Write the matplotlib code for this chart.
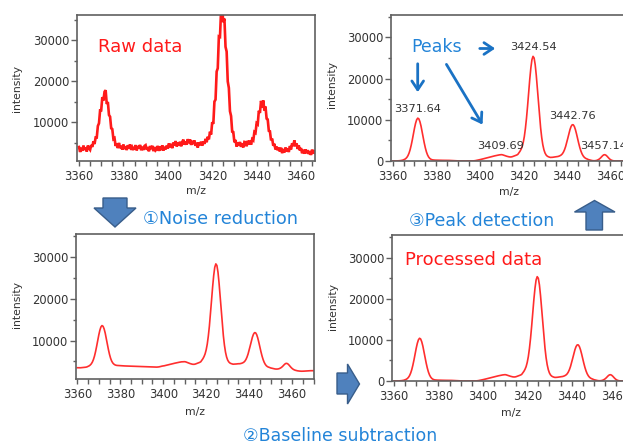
import numpy as np
import matplotlib
matplotlib.use("Agg")
import matplotlib.pyplot as plt
from matplotlib.patches import Polygon, FancyArrowPatch
from matplotlib.ticker import MultipleLocator

plt.rcParams['font.family'] = ['DejaVu Sans', 'Noto Sans CJK JP']

W, H = 623, 443

# m/z grid, 0.5 step from 3360 to 3470
mz = np.arange(3360, 3470.5, 0.5)

# raw spectrum (noisy)
raw_int = [
    3960, 2750, 3740, 3050, 4300, 3240, 3800, 2850, 4320, 3630,
    3260, 4430, 3980, 5340, 4690, 6290, 6270, 9080, 9730, 12880,
    12890, 16100, 15260, 17410, 17790, 14440, 14920, 11750, 11340, 8510,
    8310, 5900, 6110, 4210, 4830, 3690, 4960, 3690, 4260, 3330,
    4560, 3440, 4120, 3210, 4390, 3590, 4570, 3260, 3950, 3440,
    3540, 4420, 3120, 4200, 3590, 4470, 3160, 4040, 3230, 4220,
    4410, 3300, 3900, 2900, 4190, 3480, 4270, 2960, 3950, 3140,
    3430, 4220, 3010, 4100, 3190, 4380, 3090, 4020, 3360, 4310,
    3580, 4840, 3910, 4690, 3670, 5050, 4330, 5410, 4090, 5060,
    4280, 5250, 4120, 5190, 5760, 4520, 5280, 4530, 5870, 4900,
    5810, 4460, 5470, 4660, 5550, 4260, 4980, 3810, 5080, 4390,
    5260, 4280, 5300, 4720, 5940, 5120, 6470, 5810, 7700, 6990,
    10000, 9600, 15020, 15490, 22330, 23130, 30890, 30770, 37280, 37530,
    34320, 35230, 28340, 27200, 19920, 18340, 12680, 11500, 7690, 7580,
    5100, 5670, 4050, 5080, 4270, 5180, 4000, 4820, 3850, 5200,
    5130, 4130, 5490, 4590, 5520, 4520, 5850, 5580, 7630, 7410,
    9730, 9480, 12780, 12250, 15200, 13520, 15300, 12840, 13820, 10870,
    10670, 7900, 7780, 5570, 6000, 4270, 4730, 3350, 4070, 3160,
    3780, 2840, 3800, 2460, 3430, 2620, 3830, 2860, 3630, 2740,
    4190, 3350, 4870, 4130, 5580, 4150, 4830, 3490, 4330, 3100,
    3700, 2430, 3310, 2330, 3370, 2420, 3180, 2250, 2930, 2020,
    3320, 2340, 3160, 2280, 3300, 2220, 3130, 2440, 3350, 2350,
    2900,
]

# after noise reduction (smoothed, baseline still present)
smooth_int = [
    3460, 3450, 3440, 3450, 3480, 3510, 3540, 3560, 3590, 3660,
    3773, 3904, 4097, 4378, 4800, 5410, 6240, 7320, 8590, 10010,
    11300, 12450, 13260, 13590, 13420, 12780, 11780, 10500, 9120, 7800,
    6660, 5740, 5070, 4620, 4340, 4160, 4060, 4010, 3990, 3970,
    3960, 3940, 3920, 3910, 3890, 3890, 3870, 3860, 3850, 3840,
    3840, 3820, 3820, 3800, 3790, 3770, 3760, 3740, 3730, 3720,
    3710, 3700, 3700, 3700, 3690, 3680, 3670, 3660, 3650, 3640,
    3630, 3620, 3610, 3600, 3610, 3630, 3660, 3710, 3780, 3850,
    3880, 3930, 3990, 4050, 4110, 4170, 4230, 4300, 4370, 4440,
    4500, 4560, 4620, 4680, 4730, 4780, 4830, 4870, 4890, 4900,
    4910, 4860, 4770, 4660, 4550, 4460, 4380, 4310, 4280, 4290,
    4350, 4450, 4550, 4650, 4750, 4900, 5275, 5644, 6136, 6788,
    7750, 9120, 11050, 13480, 16430, 19650, 22850, 25600, 27610, 28420,
    28030, 26420, 23810, 20640, 17190, 13990, 11170, 8890, 7200, 6050,
    5310, 4875, 4615, 4474, 4380, 4310, 4320, 4340, 4360, 4400,
    4420, 4420, 4460, 4530, 4630, 4780, 5030, 5430, 6000, 6750,
    7685, 8716, 9790, 10760, 11490, 11882, 11866, 11430, 10640, 9600,
    8440, 7310, 6290, 5440, 4770, 4285, 3944, 3736, 3604, 3522,
    3410, 3350, 3290, 3230, 3170, 3140, 3140, 3170, 3240, 3360,
    3520, 3740, 4000, 4280, 4470, 4510, 4390, 4140, 3830, 3540,
    3290, 3090, 2950, 2850, 2780, 2720, 2680, 2650, 2630, 2620,
    2620, 2640, 2660, 2680, 2700, 2720, 2730, 2740, 2750, 2750,
    2750,
]

# after baseline subtraction (processed)
proc_int = [
    0, 0, 0, 0, 20, 40, 60, 90, 130, 190,
    293, 414, 597, 878, 1300, 1920, 2760, 3850, 5130, 6560,
    7950, 9150, 10010, 10390, 10220, 9530, 8480, 7150, 5720, 4350,
    3160, 2190, 1470, 970, 640, 440, 320, 260, 230, 210,
    200, 190, 180, 180, 170, 170, 160, 160, 150, 150,
    150, 140, 140, 130, 120, 110, 100, 80, 60, 40,
    20, 10, 0, 0, 0, 0, 0, 0, 0, 0,
    0, 0, 0, 0, 20, 50, 90, 140, 200, 260,
    330, 380, 440, 510, 580, 650, 720, 790, 860, 920,
    980, 1050, 1120, 1190, 1260, 1320, 1380, 1430, 1480, 1520,
    1540, 1500, 1420, 1320, 1220, 1140, 1070, 1010, 980, 990,
    1050, 1150, 1250, 1350, 1450, 1600, 1975, 2344, 2836, 3488,
    4500, 5920, 7900, 10380, 13330, 16600, 19800, 22550, 24560, 25370,
    24980, 23370, 20760, 17540, 14090, 10840, 8020, 5690, 3950, 2750,
    1960, 1475, 1195, 1044, 940, 870, 880, 900, 930, 980,
    1020, 1040, 1100, 1190, 1310, 1480, 1750, 2170, 2760, 3530,
    4485, 5536, 6630, 7620, 8370, 8782, 8786, 8370, 7600, 6580,
    5440, 4310, 3290, 2440, 1770, 1285, 944, 716, 564, 462,
    330, 260, 190, 130, 80, 60, 70, 110, 190, 320,
    490, 720, 990, 1280, 1480, 1530, 1420, 1180, 880, 600,
    370, 210, 110, 50, 20, 0, 0, 0, 0, 0,
    0, 0, 0, 0, 0, 0, 0, 0, 0, 0,
    0,
]

peak_mz = [3371.64, 3409.69, 3424.54, 3442.76, 3457.14]
peak_int = [10390, 1540, 25370, 8786, 1530]

RED = '#ff1a1a'
LINE_RED = '#ff2e2e'
BLUE_TXT = '#2384d8'
BLUE_ARR = '#1a72c4'
BLOCK_FACE = '#4f81bd'
BLOCK_EDGE = '#385d8a'


def fx(x):
    return x / W


def fy(y):
    return 1 - y / H


def add_panel(fig, l, t, r, b, xlim, ylim, xlab_px, ylab_px):
    ax = fig.add_axes([l / W, 1 - b / H, (r - l) / W, (b - t) / H])
    ax.set_xlim(*xlim)
    ax.set_ylim(*ylim)
    ax.xaxis.set_major_locator(MultipleLocator(20))
    ax.xaxis.set_minor_locator(MultipleLocator(5))
    ax.yaxis.set_major_locator(MultipleLocator(10000))
    ax.yaxis.set_minor_locator(MultipleLocator(5000))
    for s in ax.spines.values():
        s.set_color('#606060')
        s.set_linewidth(1.2)
    ax.tick_params(which='both', direction='out', color='#606060',
                   labelcolor='#333333', labelsize=8.3, width=1)
    ax.tick_params(axis='x', which='both', length=3.5, pad=3)
    ax.tick_params(axis='y', which='major', length=4.5, pad=1)
    ax.tick_params(axis='y', which='minor', length=2)
    ax.set_xlabel('m/z', fontsize=7.8, color='#333333')
    ax.set_ylabel('intensity', fontsize=7.8, color='#333333')
    wpx, hpx = r - l, b - t
    ax.xaxis.set_label_coords((xlab_px[0] - l) / wpx, (b - xlab_px[1]) / hpx)
    ax.yaxis.set_label_coords((ylab_px[0] - l) / wpx, (b - ylab_px[1]) / hpx)
    ax.xaxis.label.set_verticalalignment('center')
    ax.yaxis.label.set_verticalalignment('center')
    return ax


fig = plt.figure(figsize=(W / 100, H / 100), dpi=100)
fig.patch.set_facecolor('white')

# 1: raw data
ax1 = add_panel(fig, 77, 15, 315, 161, (3359.1, 3466.3), (550, 36100),
                (196, 191), (17, 88))
ax1.plot(mz, raw_int, color=RED, lw=1.9, solid_joinstyle='miter')
fig.text(fx(98), fy(52), 'Raw data', color=RED, fontsize=13, va='baseline')

# 2: peak detection result
ax2 = add_panel(fig, 391, 15, 638.5, 161, (3359.2, 3473.0), (0, 35400),
                (509, 192), (332, 85))
ax2.plot(mz, proc_int, color=LINE_RED, lw=1.2)
for m, v in zip(peak_mz, peak_int):
    ax2.text(m, v + 1000, f'{m:.2f}', ha='center', va='bottom',
             fontsize=8.2, color='#333333')
fig.text(fx(411), fy(52.5), 'Peaks', color=BLUE_TXT, fontsize=12.5,
         va='baseline')

# 3: noise reduced
ax3 = add_panel(fig, 76, 234, 314, 379, (3359.4, 3470.2), (750, 35600),
                (195, 412), (17, 305))
ax3.plot(mz, smooth_int, color=LINE_RED, lw=1.2)

# 4: baseline subtracted
ax4 = add_panel(fig, 392, 235, 640, 381, (3359.1, 3470.8), (0, 35500),
                (511, 413), (333, 306))
ax4.plot(mz, proc_int, color=LINE_RED, lw=1.2)
fig.text(fx(405), fy(265), 'Processed data', color=RED, fontsize=13,
         va='baseline')

# step captions
fig.text(fx(143), fy(223.5), '①Noise reduction', color=BLUE_TXT,
         fontsize=12.8, va='baseline')
fig.text(fx(409), fy(226), '③Peak detection', color=BLUE_TXT,
         fontsize=12.5, va='baseline')
fig.text(fx(243), fy(441), '②Baseline subtraction', color=BLUE_TXT,
         fontsize=12.5, va='baseline')

# block arrows
down = [(103, 198), (127, 198), (127, 208), (136, 208), (115, 227),
        (94, 208), (103, 208)]
up = [(594.5, 200.5), (615, 212), (602.5, 212), (602.5, 230), (586, 230),
      (586, 212), (574.5, 212)]
right = [(337, 373), (347.5, 373), (347.5, 364), (359.5, 384),
         (347.5, 404), (347.5, 394), (337, 394)]
for pts in (down, up, right):
    fig.add_artist(Polygon([(fx(x), fy(y)) for x, y in pts], closed=True,
                           transform=fig.transFigure, facecolor=BLOCK_FACE,
                           edgecolor=BLOCK_EDGE, lw=1.0))

# thin arrows pointing at peaks
for (x0, y0), (x1, y1) in [((417.7, 61), (417.7, 95)),
                           ((445, 62), (484, 127)),
                           ((477, 48.5), (498, 48.5))]:
    fig.add_artist(FancyArrowPatch((fx(x0), fy(y0)), (fx(x1), fy(y1)),
                                   transform=fig.transFigure,
                                   arrowstyle='->,head_length=0.45,head_width=0.3',
                                   mutation_scale=14, lw=2.0, color=BLUE_ARR))

fig.savefig('out.png', dpi=100)
